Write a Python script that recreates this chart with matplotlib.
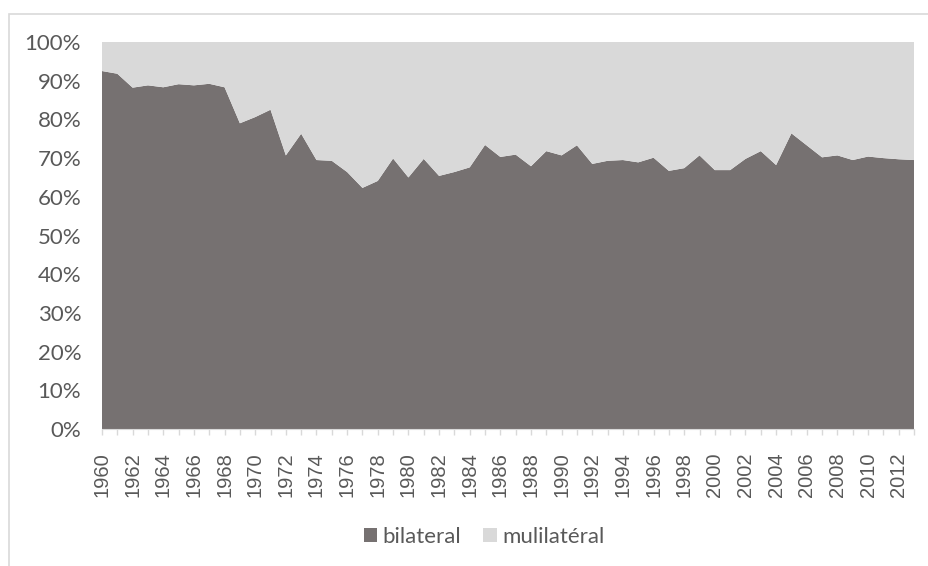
import numpy as np
import matplotlib.pyplot as plt
from matplotlib.patches import Patch, Rectangle

years = list(range(1960, 2014))
bilateral = [92.5, 91.8, 88.2, 88.8, 88.3, 89.1, 88.8, 89.2, 88.3, 79.0,
             80.6, 82.5, 70.7, 76.3, 69.5, 69.3, 66.4, 62.3, 64.1, 69.9,
             65.0, 69.8, 65.4, 66.4, 67.6, 73.4, 70.3, 70.9, 67.9, 71.8,
             70.7, 73.3, 68.5, 69.3, 69.5, 68.9, 70.1, 66.7, 67.4, 70.7,
             66.9, 66.9, 69.8, 71.8, 68.2, 76.4, 73.3, 70.2, 70.7, 69.5,
             70.4, 70.0, 69.7, 69.5]
multilateral = [100 - b for b in bilateral]
series_names = ['bilateral', 'mulilatéral']

dark = '#767171'
light = '#d9d9d9'
text_col = '#595959'

plt.rcParams['font.family'] = ['Lato', 'DejaVu Sans']

fig = plt.figure(figsize=(9.29, 5.66), dpi=100)
ax = fig.add_axes([102 / 929, 1 - 429 / 566, (914 - 102) / 929, (429 - 42) / 566])

ax.stackplot(years, bilateral, multilateral, colors=[dark, light], linewidth=0)

ax.set_xlim(1960, 2013)
ax.set_ylim(0, 100)
ax.set_yticks(np.arange(0, 101, 10))
ax.set_yticklabels([f'{v}%' for v in range(0, 101, 10)])
ax.set_xticks(years)
ax.set_xticklabels([str(y) if (y - 1960) % 2 == 0 else '' for y in years],
                   rotation=90, family=['Liberation Sans'])

ax.tick_params(axis='y', length=0, pad=15, labelsize=16, labelcolor=text_col)
ax.tick_params(axis='x', length=4, width=1, color=light, pad=13,
               labelsize=14.5, labelcolor=text_col)
for s in ['top', 'right', 'left']:
    ax.spines[s].set_visible(False)
ax.spines['bottom'].set_color(light)

# chart frame
fig.patches.append(Rectangle((9 / 929, -0.1), 1.2, 1 - 14 / 566 + 0.1,
                             transform=fig.transFigure, fill=False,
                             edgecolor=light, linewidth=1.2))

handles = [Patch(facecolor=dark), Patch(facecolor=light)]
fig.legend(handles, series_names, loc='center', bbox_to_anchor=(484 / 929, 1 - 537 / 566),
           ncol=2, frameon=False, fontsize=16, labelcolor=text_col,
           handlelength=0.6, handleheight=0.6, handletextpad=0.25, columnspacing=1.0)

fig.savefig('out.png', dpi=100)
